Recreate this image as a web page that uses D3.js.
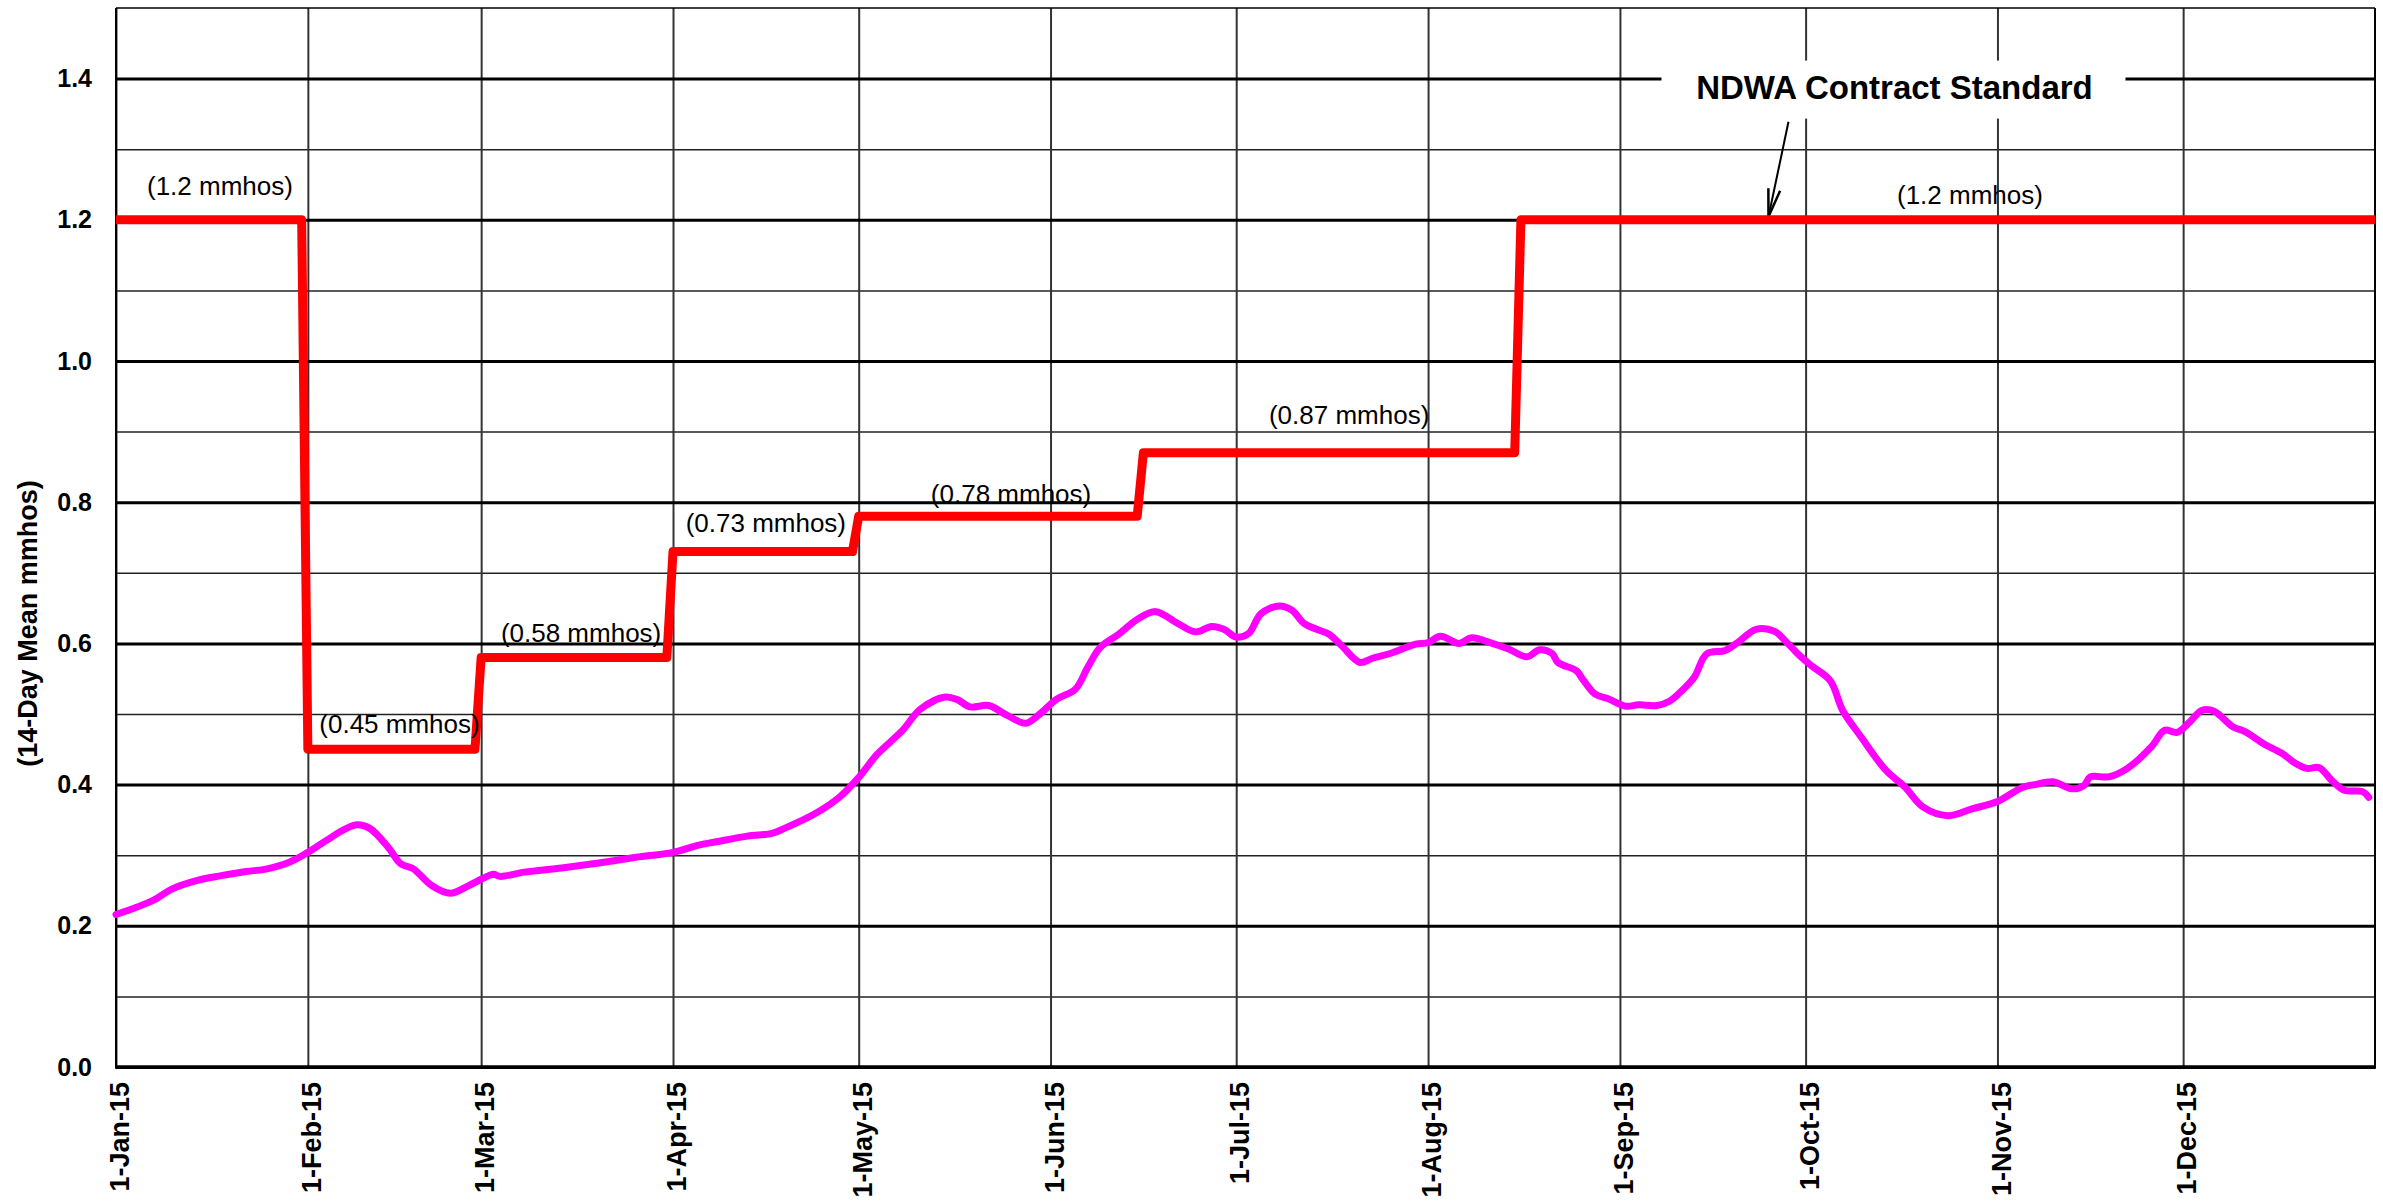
<!DOCTYPE html>
<html>
<head>
<meta charset="utf-8">
<script src="https://cdn.jsdelivr.net/npm/d3@7"></script>
<style>
  body { margin: 0; background: #fff; }
  text { font-family: "Liberation Sans", Arial, sans-serif; fill: #000; }
</style>
</head>
<body>
<div id="chart"></div>
<script>
const width = 2383
const height = 1201
const margin = {top: 8, right: 8, bottom: 134, left: 116}

// 14-day mean EC (mmhos)
const ecDates = [
  "2015-01-01","2015-01-07","2015-01-10","2015-01-14","2015-01-18","2015-01-22","2015-01-25","2015-01-29",
  "2015-02-01","2015-02-04","2015-02-07","2015-02-09","2015-02-11","2015-02-14","2015-02-16","2015-02-18",
  "2015-02-21","2015-02-24","2015-02-27","2015-03-01","2015-03-03","2015-03-04","2015-03-08","2015-03-14",
  "2015-03-20","2015-03-26","2015-04-01","2015-04-05","2015-04-08","2015-04-13","2015-04-17","2015-04-19",
  "2015-04-24","2015-04-28","2015-05-01","2015-05-04","2015-05-08","2015-05-11","2015-05-15","2015-05-17",
  "2015-05-19","2015-05-22","2015-05-25","2015-05-28","2015-05-30","2015-06-02","2015-06-05","2015-06-07",
  "2015-06-09","2015-06-12","2015-06-15","2015-06-18","2015-06-21","2015-06-22","2015-06-24","2015-06-25",
  "2015-06-27","2015-06-29","2015-07-01","2015-07-03","2015-07-05","2015-07-08","2015-07-10","2015-07-12",
  "2015-07-14","2015-07-16","2015-07-18","2015-07-21","2015-07-23","2015-07-26","2015-07-30","2015-08-01",
  "2015-08-03","2015-08-06","2015-08-08","2015-08-11","2015-08-14","2015-08-17","2015-08-19","2015-08-21",
  "2015-08-22","2015-08-25","2015-08-26","2015-08-28","2015-08-30","2015-09-02","2015-09-04","2015-09-07",
  "2015-09-09","2015-09-11","2015-09-13","2015-09-15","2015-09-18","2015-09-20","2015-09-23","2015-09-26",
  "2015-09-28","2015-09-30","2015-10-02","2015-10-05","2015-10-07","2015-10-10","2015-10-14","2015-10-17",
  "2015-10-20","2015-10-24","2015-10-28","2015-11-01","2015-11-05","2015-11-07","2015-11-10","2015-11-13",
  "2015-11-15","2015-11-16","2015-11-19","2015-11-22","2015-11-26","2015-11-28","2015-11-30","2015-12-02",
  "2015-12-04","2015-12-06","2015-12-09","2015-12-11","2015-12-14","2015-12-17","2015-12-19","2015-12-21",
  "2015-12-23","2015-12-25","2015-12-27","2015-12-30","2015-12-31"
]
const ecValues = [
  0.216,0.236,0.252,0.264,0.271,0.277,0.280,0.290,
  0.304,0.321,0.337,0.343,0.338,0.311,0.288,0.281,
  0.257,0.246,0.257,0.266,0.273,0.270,0.276,0.282,
  0.289,0.297,0.304,0.314,0.319,0.327,0.331,0.338,
  0.359,0.383,0.410,0.443,0.476,0.507,0.524,0.520,
  0.510,0.512,0.498,0.487,0.498,0.521,0.535,0.566,
  0.594,0.613,0.634,0.645,0.631,0.626,0.617,0.617,
  0.624,0.620,0.609,0.614,0.642,0.653,0.647,0.628,
  0.620,0.613,0.597,0.573,0.579,0.586,0.599,0.601,
  0.610,0.600,0.608,0.601,0.592,0.581,0.591,0.586,
  0.573,0.561,0.549,0.528,0.522,0.511,0.513,0.512,
  0.518,0.533,0.552,0.585,0.590,0.601,0.620,0.617,
  0.601,0.583,0.568,0.547,0.505,0.467,0.420,0.397,
  0.368,0.356,0.366,0.376,0.396,0.400,0.404,0.394,
  0.399,0.411,0.411,0.423,0.455,0.477,0.474,0.488,
  0.505,0.504,0.482,0.475,0.458,0.444,0.431,0.423,
  0.424,0.406,0.392,0.390,0.382
]

// NDWA contract standard: first day of each period and its limit
const stdStarts = ["2015-01-01","2015-02-01","2015-03-01","2015-04-01","2015-05-01","2015-06-16","2015-08-16"]
const stdValues = [1.2, 0.45, 0.58, 0.73, 0.78, 0.87, 1.2]
const stdEnd = "2016-01-01"

const yMajorTicks = [0, 0.2, 0.4, 0.6, 0.8, 1.0, 1.2, 1.4]
const yMinorTicks = [0.1, 0.3, 0.5, 0.7, 0.9, 1.1, 1.3]
const monthTicks = ["2015-01-01","2015-02-01","2015-03-01","2015-04-01","2015-05-01","2015-06-01",
                    "2015-07-01","2015-08-01","2015-09-01","2015-10-01","2015-11-01","2015-12-01"]

const yTitle = "(14-Day Mean mmhos)"
const annotationText = "NDWA Contract Standard"
const annotationDate = "2015-09-25"

const parse = d3.timeParse("%Y-%m-%d")
const plotW = width - margin.left - margin.right
const plotH = height - margin.top - margin.bottom

const x = d3.scaleTime()
  .domain([parse("2015-01-01"), parse(stdEnd)])
  .range([margin.left, width - margin.right])
const y = d3.scaleLinear()
  .domain([0, 1.5])
  .range([height - margin.bottom, margin.top])

const svg = d3.select("#chart").append("svg")
  .attr("width", width)
  .attr("height", height)
  .style("background", "#fff")

// horizontal grid: thin minor lines, heavy major lines with labels
const gMinor = svg.append("g")
  .attr("transform", `translate(${margin.left},0)`)
  .call(d3.axisLeft(y).tickValues(yMinorTicks).tickSize(-plotW).tickFormat(""))
gMinor.select(".domain").remove()
gMinor.selectAll("line").attr("stroke", "#222").attr("stroke-width", 1.5)

// vertical month lines and rotated date labels
const gX = svg.append("g")
  .attr("transform", `translate(0,${height - margin.bottom})`)
  .call(d3.axisBottom(x).tickValues(monthTicks.map(parse)).tickSize(-plotH)
    .tickFormat(d3.timeFormat("%-d-%b-%y")))
gX.select(".domain").remove()
gX.selectAll("line").attr("stroke", "#333").attr("stroke-width", 2)
gX.selectAll("text")
  .attr("transform", "rotate(-90)")
  .attr("x", -15)
  .attr("y", 0)
  .attr("dy", "0.47em")
  .attr("text-anchor", "end")
  .attr("font-size", 27)
  .attr("font-weight", "bold")
  .attr("font-family", "Liberation Sans, Arial, sans-serif")

const gMajor = svg.append("g")
  .attr("transform", `translate(${margin.left},0)`)
  .call(d3.axisLeft(y).tickValues(yMajorTicks).tickSize(-plotW).tickPadding(24)
    .tickFormat(d3.format(".1f")))
gMajor.select(".domain").remove()
gMajor.selectAll("line").attr("stroke", "#000").attr("stroke-width", 3)
gMajor.selectAll("text")
  .attr("font-size", 25)
  .attr("font-weight", "bold")
  .attr("font-family", "Liberation Sans, Arial, sans-serif")

// plot frame
const x0 = margin.left, x1 = width - margin.right
const y0 = margin.top, y1 = height - margin.bottom
svg.append("line").attr("x1", x0).attr("x2", x1).attr("y1", y0).attr("y2", y0)
  .attr("stroke", "#000").attr("stroke-width", 1.5)
svg.append("line").attr("x1", x1).attr("x2", x1).attr("y1", y0).attr("y2", y1)
  .attr("stroke", "#000").attr("stroke-width", 2)
svg.append("line").attr("x1", x0).attr("x2", x0).attr("y1", y0).attr("y2", y1)
  .attr("stroke", "#000").attr("stroke-width", 2)
svg.append("line").attr("x1", x0 - 1).attr("x2", x1 + 1).attr("y1", y1).attr("y2", y1)
  .attr("stroke", "#000").attr("stroke-width", 3.5)

// y title
svg.append("text")
  .attr("transform", `translate(37,${(y0 + y1) / 2 + 86}) rotate(-90)`)
  .attr("text-anchor", "middle")
  .attr("font-size", 27)
  .attr("font-weight", "bold")
  .text(yTitle)

// annotation box sits over the grid
const tipX = x(parse(annotationDate))
const tipY = y(1.2) - 3
svg.append("rect")
  .attr("x", tipX - 107).attr("y", y(1.4) - 18)
  .attr("width", 464).attr("height", 58)
  .attr("fill", "#fff")
svg.append("text")
  .attr("x", tipX + 126)
  .attr("y", y(1.4) + 20)
  .attr("text-anchor", "middle")
  .attr("font-size", 33)
  .attr("font-weight", "bold")
  .text(annotationText)

// arrow from the box down to the standard line
const startX = tipX + 20, startY = tipY - 95
const ang = Math.atan2(tipY - startY, tipX - startX)
const headLen = 28, headW = 6
const bx = tipX - headLen * Math.cos(ang), by = tipY - headLen * Math.sin(ang)
const px = -Math.sin(ang) * headW, py = Math.cos(ang) * headW
svg.append("line")
  .attr("x1", startX).attr("y1", startY).attr("x2", tipX).attr("y2", tipY)
  .attr("stroke", "#000").attr("stroke-width", 2)
svg.append("path")
  .attr("d", `M${bx + px},${by + py}L${tipX},${tipY}L${bx - px},${by - py}`)
  .attr("fill", "none").attr("stroke", "#000").attr("stroke-width", 2.5)

// standard as steps: each period held until the day before the next one
const stdPoints = []
stdStarts.forEach(function(s, i) {
  const start = parse(s)
  const next = i + 1 < stdStarts.length ? parse(stdStarts[i + 1]) : null
  stdPoints.push([start, stdValues[i]])
  if (next) stdPoints.push([d3.timeDay.offset(next, -1), stdValues[i]])
  else stdPoints.push([parse(stdEnd), stdValues[i]])
})

svg.append("path")
  .datum(stdPoints)
  .attr("fill", "none")
  .attr("stroke", "#ff0000")
  .attr("stroke-width", 9)
  .attr("stroke-linejoin", "round")
  .attr("d", d3.line().x(d => x(d[0])).y(d => y(d[1])))

// labels for each period: nudges from segment centre (dx) and baseline above line (dy)
const labelNudge = [[8, -25], [5, -16], [4, -16], [0, -20], [10, -13], [17, -29], [22, -16]]
stdStarts.forEach(function(s, i) {
  const a = x(parse(s))
  const b = x(i + 1 < stdStarts.length ? parse(stdStarts[i + 1]) : parse(stdEnd))
  svg.append("text")
    .attr("x", (a + b) / 2 + labelNudge[i][0])
    .attr("y", y(stdValues[i]) + labelNudge[i][1])
    .attr("text-anchor", "middle")
    .attr("font-size", 26)
    .text("(" + stdValues[i] + " mmhos)")
})

// 14-day mean line
const ecData = ecDates.map((d, i) => [parse(d), ecValues[i]])
svg.append("path")
  .datum(ecData)
  .attr("fill", "none")
  .attr("stroke", "#ff00ff")
  .attr("stroke-width", 7)
  .attr("stroke-linejoin", "round")
  .attr("stroke-linecap", "round")
  .attr("d", d3.line().curve(d3.curveCatmullRom.alpha(0.5)).x(d => x(d[0])).y(d => y(d[1])))
</script>
</body>
</html>
